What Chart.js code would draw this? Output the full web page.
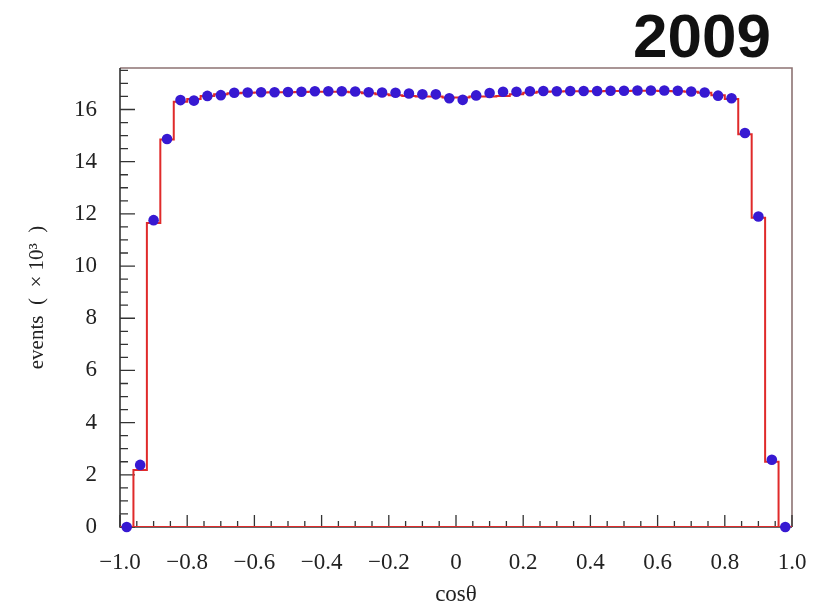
<!DOCTYPE html>
<html><head><meta charset="utf-8">
<script src="https://cdn.jsdelivr.net/npm/chart.js@4/dist/chart.umd.min.js"></script>
<style>html,body{margin:0;padding:0;background:#fff}canvas{display:block}</style>
</head><body>
<canvas id="c" width="820" height="609"></canvas>
<script>
// ---- data ----
const binCenters = [-0.98,-0.94,-0.90,-0.86,-0.82,-0.78,-0.74,-0.70,-0.66,-0.62,
  -0.58,-0.54,-0.50,-0.46,-0.42,-0.38,-0.34,-0.30,-0.26,-0.22,
  -0.18,-0.14,-0.10,-0.06,-0.02,0.02,0.06,0.10,0.14,0.18,
  0.22,0.26,0.30,0.34,0.38,0.42,0.46,0.50,0.54,0.58,
  0.62,0.66,0.70,0.74,0.78,0.82,0.86,0.90,0.94,0.98];
const dataEvents = [0,2.38,11.76,14.87,16.36,16.34,16.52,16.55,16.64,16.65,
  16.66,16.66,16.67,16.68,16.70,16.70,16.70,16.69,16.66,16.65,
  16.64,16.61,16.58,16.58,16.43,16.37,16.54,16.63,16.68,16.68,
  16.70,16.71,16.70,16.71,16.71,16.71,16.72,16.72,16.73,16.73,
  16.73,16.72,16.69,16.65,16.53,16.43,15.10,11.90,2.58,0];
const mcEvents = [0,2.18,11.65,14.85,16.30,16.40,16.52,16.58,16.62,16.64,
  16.65,16.66,16.66,16.67,16.68,16.68,16.68,16.66,16.62,16.58,
  16.55,16.52,16.50,16.50,16.46,16.46,16.50,16.50,16.52,16.58,
  16.64,16.68,16.69,16.70,16.70,16.70,16.71,16.71,16.72,16.72,
  16.71,16.70,16.68,16.64,16.55,16.40,15.05,11.85,2.50,0];
const xTickValues = [-1.0,-0.8,-0.6,-0.4,-0.2,0,0.2,0.4,0.6,0.8,1.0];
const xTickLabels = ['\u22121.0','\u22120.8','\u22120.6','\u22120.4','\u22120.2','0','0.2','0.4','0.6','0.8','1.0'];
const yTickValues = [0,2,4,6,8,10,12,14,16];
const yTickLabels = ['0','2','4','6','8','10','12','14','16'];
const xTitle = 'cos\u03b8';
const yTitle = 'events  (  \u00d7 10\u00b3  )';
const yearLabel = '2009';

// ---- derived structures ----
const halfW = (binCenters[1] - binCenters[0]) / 2;
const histPath = binCenters.map((c, i) => ({x: c - halfW, y: mcEvents[i]}));
histPath.push({x: binCenters[binCenters.length - 1] + halfW, y: 0});
histPath.push({x: binCenters[0] - halfW, y: 0});
const dots = binCenters.map((c, i) => ({x: c, y: dataEvents[i]}));

const serif = '"Liberation Serif", "Times New Roman", serif';

const framePlugin = {
  id: 'frame',
  beforeDatasetsDraw(chart) {
    const {ctx, chartArea: a, scales: {x, y}} = chart;
    ctx.save();
    ctx.strokeStyle = '#8d7373';
    ctx.lineWidth = 1.6;
    ctx.beginPath();
    ctx.moveTo(a.left, a.top); ctx.lineTo(a.right, a.top); ctx.lineTo(a.right, a.bottom);
    ctx.stroke();
    ctx.strokeStyle = '#333';
    ctx.lineWidth = 1.6;
    ctx.beginPath();
    ctx.moveTo(a.left, a.top); ctx.lineTo(a.left, a.bottom); ctx.lineTo(a.right, a.bottom);
    ctx.stroke();
    ctx.lineWidth = 1.3;
    ctx.beginPath();
    for (let k = 0; k * 0.5 <= y.max + 1e-9; k++) {
      const py = y.getPixelForValue(k * 0.5);
      const len = (k % 4 === 0) ? 15 : 8;
      ctx.moveTo(a.left, py); ctx.lineTo(a.left + len, py);
    }
    for (let k = 0; k <= 40; k++) {
      const v = -1 + k * 0.05;
      const px = x.getPixelForValue(v);
      const len = (k % 4 === 0) ? 12 : 6;
      ctx.moveTo(px, a.bottom); ctx.lineTo(px, a.bottom - len);
    }
    ctx.stroke();
    ctx.restore();
  },
  afterDraw(chart) {
    const {ctx} = chart;
    ctx.save();
    ctx.fillStyle = '#111';
    ctx.font = 'bold 62px "Liberation Sans", Arial, sans-serif';
    ctx.textAlign = 'center';
    ctx.textBaseline = 'alphabetic';
    ctx.fillText(yearLabel, 702, 57);
    ctx.restore();
  }
};

new Chart(document.getElementById('c'), {
  type: 'scatter',
  data: {
    datasets: [
      {
        type: 'line',
        data: histPath,
        stepped: 'before',
        borderColor: '#e02a2a',
        borderWidth: 2,
        pointRadius: 0,
        fill: false,
        tension: 0,
        order: 2
      },
      {
        type: 'scatter',
        data: dots,
        backgroundColor: 'rgb(55,25,210)',
        borderColor: 'rgb(55,25,210)',
        borderWidth: 0,
        pointRadius: 5.3,
        clip: false,
        order: 1
      }
    ]
  },
  options: {
    responsive: false,
    devicePixelRatio: 1,
    animation: false,
    layout: {padding: {top: 68, right: 28, bottom: 0, left: 0}},
    plugins: {legend: {display: false}, tooltip: {enabled: false}, title: {display: false}},
    scales: {
      x: {
        type: 'linear', position: 'bottom', min: -1, max: 1,
        grid: {display: false, drawTicks: false},
        border: {display: false},
        afterBuildTicks: s => { s.ticks = xTickValues.map(v => ({value: v})); },
        afterFit: s => { s.height = 82; s.paddingLeft = 0; s.paddingRight = 0; },
        ticks: {
          autoSkip: false, maxRotation: 0, padding: 22, color: '#222',
          font: {family: serif, size: 23},
          callback: (v, i) => xTickLabels[i]
        },
        title: {display: true, text: xTitle, color: '#222', font: {family: serif, size: 23}, padding: {top: 0, bottom: 0}}
      },
      y: {
        type: 'linear', position: 'left', min: 0, max: 17.59,
        grid: {display: false, drawTicks: false},
        border: {display: false},
        afterBuildTicks: s => { s.ticks = yTickValues.map(v => ({value: v})); },
        afterFit: s => { s.width = 120; s.paddingTop = 0; s.paddingBottom = 0; },
        ticks: {
          padding: 23, color: '#222',
          font: {family: serif, size: 23},
          callback: (v, i) => yTickLabels[i]
        },
        title: {display: true, text: yTitle, color: '#222', font: {family: serif, size: 21}, padding: {top: 25, bottom: 0}}
      }
    }
  },
  plugins: [framePlugin]
});
</script>
</body></html>
